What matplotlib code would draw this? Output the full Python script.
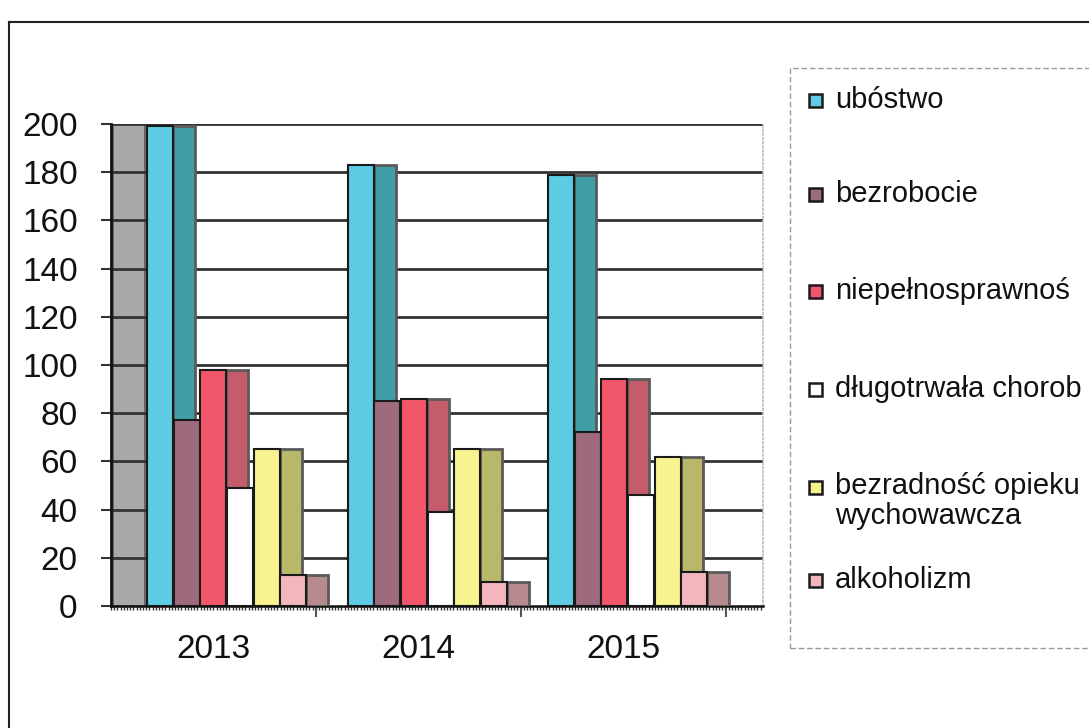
import matplotlib
matplotlib.use("Agg")
import matplotlib.pyplot as plt
from matplotlib.patches import Rectangle
from matplotlib.lines import Line2D
import numpy as np

plt.rcParams['font.family'] = ['Liberation Sans', 'DejaVu Sans']

# ---- data ----
years = ["2013", "2014", "2015"]
# legend labels as visible in the reference (cut at the picture's right edge)
series_names = ["ubóstwo", "bezrobocie", "niepełnosprawnoś", "długotrwała chorob",
                "bezradność opieku\nwychowawcza", "alkoholizm"]
ubostwo = [199, 183, 179]
bezrobocie = [77, 85, 72]
niepelnosprawnosc = [98, 86, 94]
choroba = [49, 39, 46]
bezradnosc = [65, 65, 62]
alkoholizm = [13, 10, 14]
y_ticks = [0, 20, 40, 60, 80, 100, 120, 140, 160, 180, 200]

series_values = [ubostwo, bezrobocie, niepelnosprawnosc, choroba, bezradnosc, alkoholizm]
front_colors = ["#5ccbe3", "#9e6a7e", "#f2566b", "#ffffff", "#f7f38e", "#f4b6bd"]
side_colors = ["#3f9ea8", "#7d4f61", "#c45c6c", "#d8d8d8", "#b9b86a", "#b78a8f"]

W, H = 1089, 728
fig = plt.figure(figsize=(W / 100, H / 100), dpi=100)

def fx(px):
    return px / W

def fy(py):
    return 1 - py / H

# axes placement (pixels)
ax_l, ax_r, ax_t, ax_b = 111, 763, 124, 606
ax = fig.add_axes([fx(ax_l), fy(ax_b), (ax_r - ax_l) / W, (ax_b - ax_t) / H])
cat_px = 205.0
xmax = (ax_r - ax_l) / cat_px
ax.set_xlim(0, xmax)
ax.set_ylim(0, 200)

# back side wall (grey)
ax.add_patch(Rectangle((0.01, 0), 0.156, 200, facecolor="#a9a9a9", edgecolor="#555555",
                       lw=1.2, zorder=0.3))
# gridlines
for t in y_ticks[1:]:
    ax.axhline(t, color="#333333", lw=2.0, zorder=0.5)

# bars (front face + darker side face, pseudo 3D)
front_w = 0.127
side_w = 0.107
pitch = 0.130
n_years = len(years)
for g in range(n_years):
    start = g + 0.176 - 0.022 * g
    for i, vals in enumerate(series_values):
        x0 = start + i * pitch
        z = 2 + g * 20 + i * 2
        ax.bar([x0 + front_w], [vals[g]], width=side_w, align='edge', color=side_colors[i],
               edgecolor="#5a5a5a", lw=2.0, zorder=z)
        ax.bar([x0], [vals[g]], width=front_w, align='edge', color=front_colors[i],
               edgecolor="#1a1a1a", lw=1.5, zorder=z + 1)

# axes styling
ax.set_yticks(y_ticks)
ax.set_yticklabels([str(t) for t in y_ticks], fontsize=24, color="#111111")
ax.tick_params(axis='y', direction='out', length=7, width=1.5, color="#333333", pad=17)
ax.set_xticks([1, 2, 3])
ax.set_xticklabels([])
ax.set_xticks([0.5, 1.5, 2.5], minor=True)
ax.set_xticklabels(years, minor=True, fontsize=24, color="#111111")
ax.tick_params(axis='x', which='major', direction='out', length=8, width=1.5, color="#555555")
ax.tick_params(axis='x', which='minor', length=0, pad=20)
ax.spines['left'].set_linewidth(2)
ax.spines['left'].set_color("#111111")
ax.spines['bottom'].set_linewidth(1.8)
ax.spines['bottom'].set_color("#111111")
ax.spines['top'].set_visible(False)
ax.spines['right'].set_color("#bbbbbb")
ax.spines['right'].set_linestyle((0, (1, 1.5)))
ax.spines['right'].set_linewidth(1.2)
ax.set_facecolor("white")

# fine floor-edge ticks along the category axis
sec = ax.secondary_xaxis('bottom')
sec.set_xticks(np.arange(0, xmax, 3.2 / cat_px))
sec.set_xticklabels([])
sec.tick_params(length=3, width=1.0, color="#333333", direction='out')
sec.spines['bottom'].set_visible(False)

# outer chart border
fig.add_artist(Line2D([fx(9), fx(9)], [fy(22), fy(728)], color="#222222", lw=1.5))
fig.add_artist(Line2D([fx(9), fx(1089)], [fy(22), fy(22)], color="#222222", lw=1.5))

# legend (manual, Excel style)
leg_l, leg_t, leg_b = 790, 68, 648
fig.add_artist(Rectangle((fx(leg_l), fy(leg_b)), fx(1100 - leg_l), (leg_b - leg_t) / H,
                         facecolor="none", edgecolor="#9a9a9a", lw=1.0,
                         linestyle=(0, (4, 2))))
entry_y = [100, 194, 291, 389, 487, 580]
for name, c, yy in zip(series_names, front_colors, entry_y):
    fig.add_artist(Rectangle((fx(809), fy(yy + 7)), fx(13), 13 / H, facecolor=c,
                             edgecolor="#1a1a1a", lw=1.8))
    if '\n' in name:
        fig.text(fx(835), fy(yy - 15), name, fontsize=21, color="#111111", ha='left',
                 va='top', linespacing=1.08)
    else:
        fig.text(fx(835), fy(yy), name, fontsize=21, color="#111111", ha='left',
                 va='center')

fig.savefig("out.png", dpi=100)
